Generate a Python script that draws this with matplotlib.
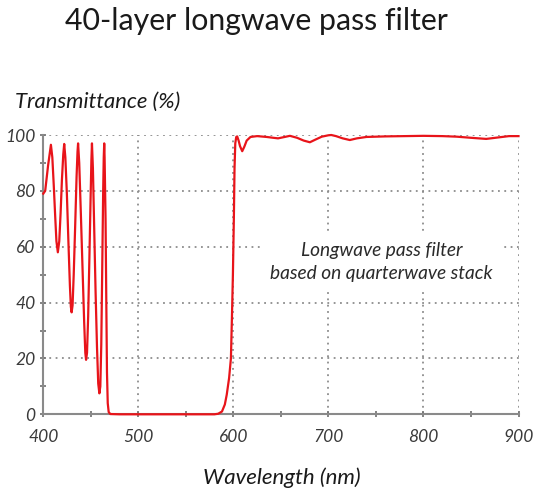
import matplotlib
matplotlib.use("Agg")
import matplotlib.pyplot as plt

# Wavelength (nm) and transmittance (%)
wavelength = [400, 402, 405, 408, 409.5, 411, 412.5, 413.8, 415.3, 416.8, 418.2, 419.6, 421, 422,
              423.2, 424.8, 426.4, 428, 429, 429.8, 430.8, 432, 433.5, 435, 436, 436.6,
              437.8, 439.5, 441.3, 443, 444.2, 445, 446, 447.2, 448.5, 449.8, 450.6, 451.2,
              452.2, 453.6, 455, 456.5, 457.8, 459, 460, 461, 462, 463, 463.6, 464.1,
              464.5, 465.5, 466.3, 467, 467.8, 468.8, 470.5, 480, 500, 550, 580,
              584, 588, 591, 593, 595.5, 597.4, 598.5, 599.5, 600.5, 601.2, 602, 603, 604,
              605.5, 607, 609.3, 611.5, 614, 618, 625, 635, 642, 647, 654, 659.5, 667, 674,
              680.5, 686, 693, 700, 703, 708, 715, 722.5, 730, 740, 760, 780, 800, 820,
              835, 850, 866, 878, 890, 900]
transmittance = [79, 80, 89, 96.5, 92, 82, 71, 62, 58, 62, 72, 84, 93, 96.8,
                 92, 79, 62, 46, 38.5, 36.5, 39, 50, 67, 85, 94, 97,
                 90, 72, 52, 33, 22, 19.5, 22, 35, 56, 78, 91, 97,
                 88, 66, 44, 24, 11, 7.5, 10, 25, 52, 80, 92, 97,
                 92, 70, 40, 15, 4, 0.8, 0.1, 0, 0, 0, 0,
                 0.2, 1, 3.5, 7, 13, 20, 35, 50, 70, 88, 97, 99.3, 99.5,
                 98, 96, 94.2, 95.8, 98.0, 99.3, 99.6, 99.3, 99.0, 98.8, 99.3, 99.7, 99.0, 98.0,
                 97.4, 98.3, 99.4, 99.9, 100, 99.6, 98.8, 98.2, 98.8, 99.3, 99.5, 99.6, 99.7, 99.6,
                 99.4, 99.0, 98.6, 99.1, 99.6, 99.6]

x_ticks = [400, 500, 600, 700, 800, 900]
y_ticks = [0, 20, 40, 60, 80, 100]

title = "40-layer longwave pass filter"
x_label = "Wavelength (nm)"
y_label = "Transmittance (%)"
note = "Longwave pass filter\nbased on quarterwave stack"

FONT = "Lato"
fig = plt.figure(figsize=(5.39, 4.90), dpi=100)
ax = fig.add_axes([43.3 / 539, (490 - 414.3) / 490, 475.2 / 539, 279.3 / 490])

ax.plot(wavelength, transmittance, color="#e8141a", lw=1.6, zorder=3, clip_on=False,
        solid_joinstyle="round")

ax.set_xlim(400, 900)
ax.set_ylim(0, 100)
ax.set_xticks(x_ticks)
ax.set_yticks(y_ticks)
ax.set_xticks(range(450, 900, 100), minor=True)
ax.set_yticks(range(10, 100, 20), minor=True)

ax.grid(True, which="major", color="#8c8c8c", linestyle=(0, (1, 2.5)), lw=1.3)
for s in ["top", "right"]:
    ax.spines[s].set_visible(False)
for s in ["left", "bottom"]:
    ax.spines[s].set_color("#8a8a8a")
    ax.spines[s].set_linewidth(1.5)

ax.tick_params(which="both", direction="inout", color="#6e6e6e", width=1.2, length=5)
ax.tick_params(axis="x", pad=8)
ax.tick_params(axis="y", pad=3)
for lbl in ax.get_xticklabels() + ax.get_yticklabels():
    lbl.set_fontfamily(FONT)
    lbl.set_fontstyle("italic")
    lbl.set_fontsize(12.5)
    lbl.set_color("#3a3a3a")

fig.text(256 / 539, 1 - 21 / 490, title, ha="center", va="center",
         fontsize=21.8, family=FONT, color="#1a1a1a")
fig.text(15 / 539, 1 - 102 / 490, y_label, ha="left", va="center",
         fontsize=15.8, family=FONT, style="italic", color="#1a1a1a")
fig.text(282 / 539, 1 - 478 / 490, x_label, ha="center", va="center",
         fontsize=16, family=FONT, style="italic", color="#1a1a1a")

ax.text(756, 54.5, note, ha="center", va="center", fontsize=13.8, family=FONT,
        style="italic", color="#2a2a2a", linespacing=1.4, zorder=4,
        bbox=dict(facecolor="white", edgecolor="none", pad=5))

fig.savefig("out.png", dpi=100)
